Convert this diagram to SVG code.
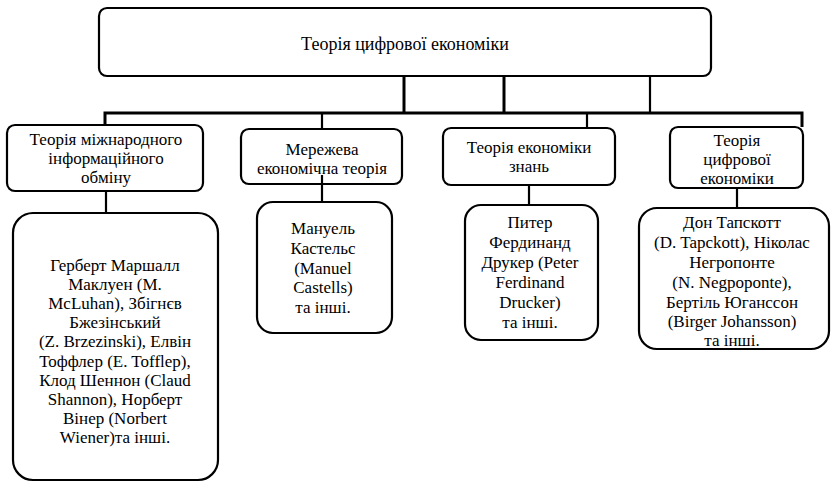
<svg xmlns="http://www.w3.org/2000/svg" width="832" height="483" viewBox="0 0 832 483">
<style>
  .box { fill: #fff; stroke: #000; stroke-width: 2.2; }
  .t { font-family: "Liberation Serif", "Times New Roman", serif; font-size: 17px; fill: #000; text-anchor: middle; dominant-baseline: central; }
  .tl { font-size: 18px; }
  .c { stroke: #000; stroke-width: 2.2; fill: none; }
  .ct { stroke: #000; stroke-width: 3; fill: none; }
</style>
<rect width="832" height="483" fill="#fff"/>
<g id="connectors">
  <line class="ct" x1="404" y1="76" x2="404" y2="113"/>
  <line class="ct" x1="504" y1="76" x2="504" y2="113"/>
  <line class="c" x1="650" y1="76" x2="650" y2="113"/>
  <polyline class="ct" points="105,126 105,113 802,113 802,127"/>
  <line class="c" x1="322" y1="113" x2="322" y2="130"/>
  <line class="c" x1="587" y1="113" x2="587" y2="128"/>
  <line class="c" x1="106" y1="191" x2="106" y2="213"/>
  <line class="c" x1="529" y1="185" x2="529" y2="205"/>
  <line class="c" x1="737" y1="188" x2="737" y2="209"/>
</g>
<g id="root">
  <rect class="box" x="99" y="8" width="612" height="68" rx="8"/>
  <text class="t tl" x="405" y="44">Теорія цифрової економіки</text>
</g>
<g id="child1">
  <rect class="box" x="7" y="125" width="196" height="66" rx="8"/>
  <text class="t" x="106" y="139">Теорія міжнародного</text>
  <text class="t" x="106" y="158">інформаційного</text>
  <text class="t" x="106" y="177">обміну</text>
</g>
<g id="child2">
  <rect class="box" x="241" y="129" width="161" height="55" rx="8"/>
  <text class="t" x="322" y="149">Мережева</text>
  <text class="t" x="322" y="168">економічна теорія</text>
</g>
<g id="connector-child2-leaf2">
  <line class="c" x1="322" y1="175" x2="322" y2="202"/>
</g>
<g id="child3">
  <rect class="box" x="443" y="128" width="172" height="57" rx="8"/>
  <text class="t" x="529" y="147">Теорія економіки</text>
  <text class="t" x="529" y="166">знань</text>
</g>
<g id="child4">
  <rect class="box" x="670" y="127" width="133" height="61" rx="8"/>
  <text class="t" x="737" y="140">Теорія</text>
  <text class="t" x="737" y="159">цифрової</text>
  <text class="t" x="737" y="178">економіки</text>
</g>
<g id="leaf1">
  <rect class="box" x="13" y="213" width="205" height="267" rx="20"/>
  <text class="t" x="115" y="265">Герберт Маршалл</text>
  <text class="t" x="115" y="284">Маклуен (M.</text>
  <text class="t" x="115" y="303">McLuhan), Збігнєв</text>
  <text class="t" x="115" y="322">Бжезінський</text>
  <text class="t" x="115" y="341">(Z. Brzezinski), Елвін</text>
  <text class="t" x="115" y="361">Тоффлер (E. Tofflep),</text>
  <text class="t" x="115" y="380">Клод Шеннон (Claud</text>
  <text class="t" x="115" y="399">Shannon),  Норберт</text>
  <text class="t" x="115" y="418">Вінер (Norbert</text>
  <text class="t" x="115" y="437">Wiener)та інші.</text>
</g>
<g id="leaf2">
  <rect class="box" x="257" y="202" width="135" height="131" rx="16"/>
  <text class="t" x="323" y="228">Мануель</text>
  <text class="t" x="323" y="248">Кастельс</text>
  <text class="t" x="323" y="268">(Manuel</text>
  <text class="t" x="323" y="287">Castells)</text>
  <text class="t" x="323" y="307">та інші.</text>
</g>
<g id="leaf3">
  <rect class="box" x="465" y="205" width="133" height="135" rx="16"/>
  <text class="t" x="530" y="222">Питер</text>
  <text class="t" x="530" y="242">Фердинанд</text>
  <text class="t" x="530" y="262">Друкер (Peter</text>
  <text class="t" x="530" y="282">Ferdinand</text>
  <text class="t" x="530" y="302">Drucker)</text>
  <text class="t" x="530" y="322">та інші.</text>
</g>
<g id="leaf4">
  <rect class="box" x="639" y="208" width="190" height="141" rx="18"/>
  <text class="t" x="732" y="222">Дон Тапскотт</text>
  <text class="t" x="732" y="242">(D. Tapckott), Ніколас</text>
  <text class="t" x="732" y="262">Негропонте</text>
  <text class="t" x="732" y="282">(N. Negpoponte),</text>
  <text class="t" x="732" y="302">Бертіль Юганссон</text>
  <text class="t" x="732" y="321">(Birger Johansson)</text>
  <text class="t" x="732" y="340">та інші.</text>
</g>
</svg>
